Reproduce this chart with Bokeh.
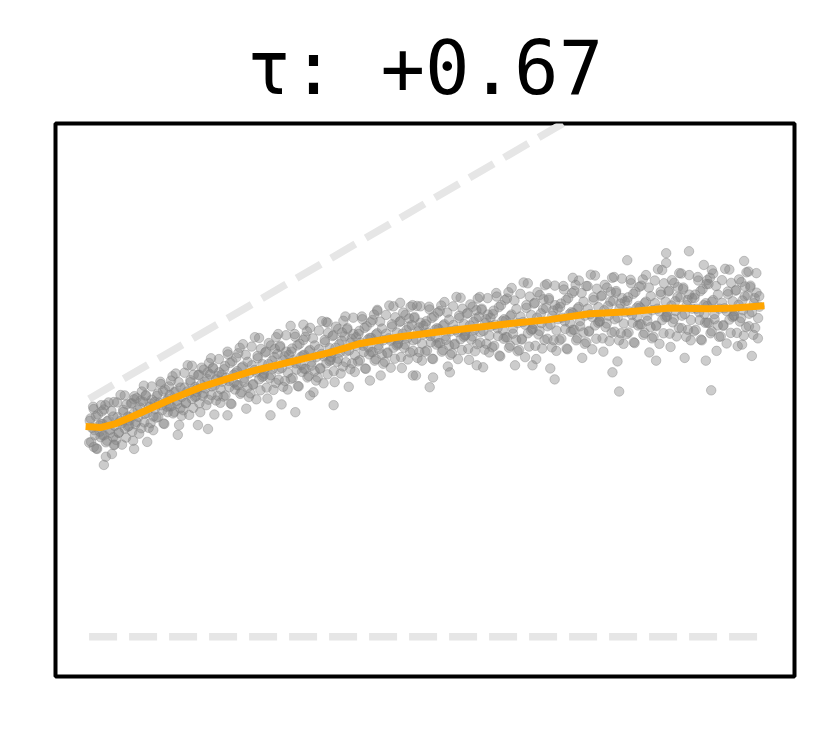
from bokeh.plotting import figure
from bokeh.embed import file_html
from bokeh.resources import INLINE
from bokeh.models import Range1d

# Scatter cloud (values read/estimated from the picture), first group
scatter_x = [
    0.1, 0.3, 0.6, 0.8, 1.0, 1.2, 1.5, 1.7, 1.9,
    2.0, 2.2, 2.5, 2.7, 2.9, 3.1, 3.4, 3.6, 3.8,
    4.2, 4.4, 4.6, 4.9, 5.1, 5.3, 5.5, 5.8, 5.95,
    6.05, 6.35, 6.55, 6.75, 7.05, 7.25, 7.45, 7.65, 7.85,
    8.15, 8.25, 8.45, 8.65, 8.95, 9.15, 9.35, 9.55, 9.75,
    10.1, 10.3, 10.6, 10.8, 11.0, 11.2, 11.5, 11.7, 11.9,
    12.0, 12.2, 12.5, 12.7, 12.9, 13.1, 13.4, 13.6, 13.8,
    14.2, 14.4, 14.6, 14.9, 15.1, 15.3, 15.5, 15.8, 15.95,
    16.05, 16.35, 16.55, 16.75, 17.05, 17.25, 17.45, 17.65, 17.85,
    18.15, 18.25, 18.45, 18.65, 18.95, 19.15, 19.35, 19.55, 19.75,
    20.1, 20.3, 20.6, 20.8, 21.0, 21.2, 21.5, 21.7, 21.9,
    22.0, 22.2, 22.5, 22.7, 22.9, 23.1, 23.4, 23.6, 23.8,
    24.2, 24.4, 24.6, 24.9, 25.1, 25.3, 25.5, 25.8, 25.95,
    26.05, 26.35, 26.55, 26.75, 27.05, 27.25, 27.45, 27.65, 27.85,
    28.15, 28.25, 28.45, 28.65, 28.95, 29.15, 29.35, 29.55, 29.75,
    30.1, 30.3, 30.6, 30.8, 31.0, 31.2, 31.5, 31.7, 31.9,
    32.0, 32.2, 32.5, 32.7, 32.9, 33.1, 33.4, 33.6, 33.8,
    34.2, 34.4, 34.6, 34.9, 35.1, 35.3, 35.5, 35.8, 35.95,
    36.05, 36.35, 36.55, 36.75, 37.05, 37.25, 37.45, 37.65, 37.85,
    38.15, 38.25, 38.45, 38.65, 38.95, 39.15, 39.35, 39.55, 39.75,
    40.1, 40.3, 40.6, 40.8, 41.0, 41.2, 41.5, 41.7, 41.9,
    42.0, 42.2, 42.5, 42.7, 42.9, 43.1, 43.4, 43.6, 43.8,
    44.2, 44.4, 44.6, 44.9, 45.1, 45.3, 45.5, 45.8, 45.95,
    46.05, 46.35, 46.55, 46.75, 47.05, 47.25, 47.45, 47.65, 47.85,
    48.15, 48.25, 48.45, 48.65, 48.95, 49.15, 49.35, 49.55, 49.75,
    50.1, 50.3, 50.6, 50.8, 51.0, 51.2, 51.5, 51.7, 51.9,
    52.0, 52.2, 52.5, 52.7, 52.9, 53.1, 53.4, 53.6, 53.8,
    54.2, 54.4, 54.6, 54.9, 55.1, 55.3, 55.5, 55.8, 55.95,
    56.05, 56.35, 56.55, 56.75, 57.05, 57.25, 57.45, 57.65, 57.85,
    58.15, 58.25, 58.45, 58.65, 58.95, 59.15, 59.35, 59.55, 59.75,
    60.1, 60.3, 60.6, 60.8, 61.0, 61.2, 61.5, 61.7, 61.9,
    62.0, 62.2, 62.5, 62.7, 62.9, 63.1, 63.4, 63.6, 63.8,
    64.2, 64.4, 64.6, 64.9, 65.1, 65.3, 65.5, 65.8, 65.95,
    66.05, 66.35, 66.55, 66.75, 67.05, 67.25, 67.45, 67.65, 67.85,
    68.15, 68.25, 68.45, 68.65, 68.95, 69.15, 69.35, 69.55, 69.75,
    70.1, 70.3, 70.6, 70.8, 71.0, 71.2, 71.5, 71.7, 71.9,
    72.0, 72.2, 72.5, 72.7, 72.9, 73.1, 73.4, 73.6, 73.8,
    74.2, 74.4, 74.6, 74.9, 75.1, 75.3, 75.5, 75.8, 75.95,
    76.05, 76.35, 76.55, 76.75, 77.05, 77.25, 77.45, 77.65, 77.85,
    78.15, 78.25, 78.45, 78.65, 78.95, 79.15, 79.35, 79.55, 79.75,
    80.1, 80.3, 80.6, 80.8, 81.0, 81.2, 81.5, 81.7, 81.9,
    82.0, 82.2, 82.5, 82.7, 82.9, 83.1, 83.4, 83.6, 83.8,
    84.2, 84.4, 84.6, 84.9, 85.1, 85.3, 85.5, 85.8, 85.95,
    86.05, 86.35, 86.55, 86.75, 87.05, 87.25, 87.45, 87.65, 87.85,
    88.15, 88.25, 88.45, 88.65, 88.95, 89.15, 89.35, 89.55, 89.75,
    90.1, 90.3, 90.6, 90.8, 91.0, 91.2, 91.5, 91.7, 91.9,
    92.0, 92.2, 92.5, 92.7, 92.9, 93.1, 93.4, 93.6, 93.8,
    94.2, 94.4, 94.6, 94.9, 95.1, 95.3, 95.5, 95.8, 95.95,
    96.05, 96.35, 96.55, 96.75, 97.05, 97.25, 97.45, 97.65, 97.85,
    98.15, 98.25, 98.45, 98.65, 98.95, 99.15, 99.35, 99.55, 99.75,
]
scatter_y = [
    55.3, 49.9, 58.9, 52.9, 56.5, 48.1, 54.1, 51.1, 57.7,
    51.6, 58.2, 49.8, 55.2, 60.0, 52.2, 46.8, 56.4, 54.0,
    60.0, 52.2, 55.2, 49.2, 57.6, 61.8, 51.0, 56.4, 54.0,
    56.2, 59.8, 50.2, 61.6, 55.0, 58.0, 52.0, 60.4, 62.8,
    64.3, 57.1, 61.9, 49.9, 58.9, 54.7, 60.7, 52.9, 60.1,
    61.7, 56.3, 65.3, 59.3, 62.9, 54.5, 60.5, 57.5, 64.1,
    59.0, 65.6, 57.2, 62.6, 67.4, 59.6, 54.2, 63.8, 61.4,
    67.6, 59.8, 62.8, 56.8, 65.2, 69.4, 58.6, 64.0, 61.6,
    63.5, 67.1, 57.5, 68.9, 62.3, 65.3, 59.3, 67.7, 70.1,
    71.3, 64.1, 68.9, 56.9, 65.9, 61.7, 67.7, 59.9, 67.1,
    68.5, 61.8, 73.0, 65.5, 70.1, 59.6, 67.1, 63.3, 71.5,
    64.4, 72.6, 62.2, 68.9, 74.9, 65.2, 58.4, 70.4, 67.4,
    74.3, 64.5, 68.3, 60.8, 71.3, 76.5, 63.1, 69.8, 66.8,
    68.4, 73.0, 61.0, 75.2, 67.0, 70.7, 63.2, 73.7, 76.7,
    77.5, 68.5, 74.5, 59.5, 70.8, 65.5, 73.0, 63.3, 72.2,
    73.0, 66.3, 77.5, 70.0, 74.6, 64.1, 71.6, 67.8, 76.0,
    68.6, 76.8, 66.4, 73.1, 79.1, 69.4, 62.6, 74.6, 71.6,
    78.4, 68.6, 72.4, 64.9, 75.4, 80.6, 67.2, 73.9, 70.9,
    72.6, 77.2, 65.2, 79.4, 71.2, 74.9, 67.4, 77.9, 80.9,
    82.0, 73.0, 79.0, 64.0, 75.3, 70.0, 77.5, 67.8, 76.7,
    77.5, 70.8, 82.0, 74.5, 79.1, 68.6, 76.1, 72.3, 80.5,
    72.9, 81.1, 70.7, 77.4, 83.4, 73.7, 66.9, 78.9, 75.9,
    82.4, 72.6, 76.4, 68.9, 79.4, 84.6, 71.2, 77.9, 74.9,
    76.2, 80.8, 68.8, 83.0, 74.8, 78.5, 71.0, 81.5, 84.5,
    84.9, 75.9, 81.9, 66.9, 78.2, 72.9, 80.4, 70.7, 79.6,
    80.0, 73.3, 84.5, 77.0, 81.6, 71.1, 78.6, 74.8, 83.0,
    75.2, 83.4, 73.0, 79.7, 85.7, 76.0, 69.2, 81.2, 78.2,
    84.6, 74.8, 78.6, 71.1, 81.6, 86.8, 73.4, 80.1, 77.1,
    78.3, 82.9, 70.9, 85.1, 76.9, 80.6, 73.1, 83.6, 86.6,
    87.0, 78.0, 84.0, 69.0, 80.3, 75.0, 82.5, 72.8, 81.7,
    82.6, 74.5, 88.0, 79.0, 84.4, 71.8, 80.8, 76.3, 86.2,
    76.7, 86.6, 74.0, 82.1, 89.3, 77.6, 69.5, 83.9, 80.3,
    87.8, 76.1, 80.6, 71.6, 84.2, 90.5, 74.3, 82.4, 78.8,
    80.1, 85.5, 71.1, 88.2, 78.3, 82.8, 73.8, 86.4, 90.0,
    90.3, 79.5, 86.7, 68.7, 82.2, 75.9, 84.9, 73.2, 84.0,
    84.4, 76.3, 89.8, 80.8, 86.2, 73.6, 82.6, 78.1, 88.0,
    78.6, 88.5, 75.9, 84.0, 91.2, 79.5, 71.4, 85.8, 82.2,
    89.8, 78.1, 82.6, 73.6, 86.2, 92.5, 76.3, 84.4, 80.8,
    82.0, 87.4, 73.0, 90.1, 80.2, 84.7, 75.7, 88.3, 91.9,
    92.1, 81.3, 88.5, 70.5, 84.0, 77.7, 86.7, 75.0, 85.8,
    86.0, 77.9, 91.4, 82.4, 87.8, 75.2, 84.2, 79.7, 89.6,
    80.0, 89.9, 77.3, 85.4, 92.6, 80.9, 72.8, 87.2, 83.6,
    91.2, 79.5, 84.0, 75.0, 87.6, 93.9, 77.7, 85.8, 82.2,
    83.2, 88.6, 74.2, 91.3, 81.4, 85.9, 76.9, 89.5, 93.1,
    93.0, 82.2, 89.4, 71.4, 84.9, 78.6, 87.6, 75.9, 86.7,
    86.7, 78.6, 92.1, 83.1, 88.5, 75.9, 84.9, 80.4, 90.3,
    80.4, 90.3, 77.7, 85.8, 93.0, 81.3, 73.2, 87.6, 84.0,
    91.3, 79.6, 84.1, 75.1, 87.7, 94.0, 77.8, 85.9, 82.3,
    83.4, 88.8, 74.4, 91.5, 81.6, 86.1, 77.1, 89.7, 93.3,
    93.5, 82.7, 89.9, 71.9, 85.4, 79.1, 88.1, 76.4, 87.2,
]

# Second group of cloud points (denser core)
scatter2_x = [
    0.02, 0.22, 0.42, 0.68, 0.88, 1.08, 1.32, 1.58, 1.78,
    2.02, 2.22, 2.42, 2.68, 2.88, 3.08, 3.32, 3.58, 3.78,
    4.02, 4.22, 4.42, 4.68, 4.88, 5.08, 5.32, 5.58, 5.78,
    6.02, 6.22, 6.42, 6.68, 6.88, 7.08, 7.32, 7.58, 7.78,
    8.02, 8.22, 8.42, 8.68, 8.88, 9.08, 9.32, 9.58, 9.78,
    10.02, 10.22, 10.42, 10.68, 10.88, 11.08, 11.32, 11.58, 11.78,
    12.02, 12.22, 12.42, 12.68, 12.88, 13.08, 13.32, 13.58, 13.78,
    14.02, 14.22, 14.42, 14.68, 14.88, 15.08, 15.32, 15.58, 15.78,
    16.02, 16.22, 16.42, 16.68, 16.88, 17.08, 17.32, 17.58, 17.78,
    18.02, 18.22, 18.42, 18.68, 18.88, 19.08, 19.32, 19.58, 19.78,
    20.02, 20.22, 20.42, 20.68, 20.88, 21.08, 21.32, 21.58, 21.78,
    22.02, 22.22, 22.42, 22.68, 22.88, 23.08, 23.32, 23.58, 23.78,
    24.02, 24.22, 24.42, 24.68, 24.88, 25.08, 25.32, 25.58, 25.78,
    26.02, 26.22, 26.42, 26.68, 26.88, 27.08, 27.32, 27.58, 27.78,
    28.02, 28.22, 28.42, 28.68, 28.88, 29.08, 29.32, 29.58, 29.78,
    30.02, 30.22, 30.42, 30.68, 30.88, 31.08, 31.32, 31.58, 31.78,
    32.02, 32.22, 32.42, 32.68, 32.88, 33.08, 33.32, 33.58, 33.78,
    34.02, 34.22, 34.42, 34.68, 34.88, 35.08, 35.32, 35.58, 35.78,
    36.02, 36.22, 36.42, 36.68, 36.88, 37.08, 37.32, 37.58, 37.78,
    38.02, 38.22, 38.42, 38.68, 38.88, 39.08, 39.32, 39.58, 39.78,
    40.02, 40.22, 40.42, 40.68, 40.88, 41.08, 41.32, 41.58, 41.78,
    42.02, 42.22, 42.42, 42.68, 42.88, 43.08, 43.32, 43.58, 43.78,
    44.02, 44.22, 44.42, 44.68, 44.88, 45.08, 45.32, 45.58, 45.78,
    46.02, 46.22, 46.42, 46.68, 46.88, 47.08, 47.32, 47.58, 47.78,
    48.02, 48.22, 48.42, 48.68, 48.88, 49.08, 49.32, 49.58, 49.78,
    50.02, 50.22, 50.42, 50.68, 50.88, 51.08, 51.32, 51.58, 51.78,
    52.02, 52.22, 52.42, 52.68, 52.88, 53.08, 53.32, 53.58, 53.78,
    54.02, 54.22, 54.42, 54.68, 54.88, 55.08, 55.32, 55.58, 55.78,
    56.02, 56.22, 56.42, 56.68, 56.88, 57.08, 57.32, 57.58, 57.78,
    58.02, 58.22, 58.42, 58.68, 58.88, 59.08, 59.32, 59.58, 59.78,
    60.02, 60.22, 60.42, 60.68, 60.88, 61.08, 61.32, 61.58, 61.78,
    62.02, 62.22, 62.42, 62.68, 62.88, 63.08, 63.32, 63.58, 63.78,
    64.02, 64.22, 64.42, 64.68, 64.88, 65.08, 65.32, 65.58, 65.78,
    66.02, 66.22, 66.42, 66.68, 66.88, 67.08, 67.32, 67.58, 67.78,
    68.02, 68.22, 68.42, 68.68, 68.88, 69.08, 69.32, 69.58, 69.78,
    70.02, 70.22, 70.42, 70.68, 70.88, 71.08, 71.32, 71.58, 71.78,
    72.02, 72.22, 72.42, 72.68, 72.88, 73.08, 73.32, 73.58, 73.78,
    74.02, 74.22, 74.42, 74.68, 74.88, 75.08, 75.32, 75.58, 75.78,
    76.02, 76.22, 76.42, 76.68, 76.88, 77.08, 77.32, 77.58, 77.78,
    78.02, 78.22, 78.42, 78.68, 78.88, 79.08, 79.32, 79.58, 79.78,
    80.02, 80.22, 80.42, 80.68, 80.88, 81.08, 81.32, 81.58, 81.78,
    82.02, 82.22, 82.42, 82.68, 82.88, 83.08, 83.32, 83.58, 83.78,
    84.02, 84.22, 84.42, 84.68, 84.88, 85.08, 85.32, 85.58, 85.78,
    86.02, 86.22, 86.42, 86.68, 86.88, 87.08, 87.32, 87.58, 87.78,
    88.02, 88.22, 88.42, 88.68, 88.88, 89.08, 89.32, 89.58, 89.78,
    90.02, 90.22, 90.42, 90.68, 90.88, 91.08, 91.32, 91.58, 91.78,
    92.02, 92.22, 92.42, 92.68, 92.88, 93.08, 93.32, 93.58, 93.78,
    94.02, 94.22, 94.42, 94.68, 94.88, 95.08, 95.32, 95.58, 95.78,
    96.02, 96.22, 96.42, 96.68, 96.88, 97.08, 97.32, 97.58, 97.78,
    98.02, 98.22, 98.42, 98.68, 98.88, 99.08, 99.32, 99.58, 99.78,
]
scatter2_y = [
    49.7, 55.9, 53.5, 58.3, 51.6, 48.2, 56.9, 52.5, 54.5,
    54.5, 51.6, 59.3, 50.2, 55.4, 53.0, 57.8, 51.1, 49.2,
    50.4, 56.2, 52.3, 61.9, 54.7, 58.1, 53.3, 59.5, 53.8,
    55.4, 59.7, 52.5, 57.3, 54.4, 61.1, 56.3, 58.7, 53.4,
    60.2, 54.9, 61.7, 57.3, 53.5, 59.7, 64.1, 56.4, 58.3,
    56.1, 62.3, 59.9, 64.7, 58.0, 54.6, 63.3, 58.9, 60.9,
    61.9, 59.0, 66.7, 57.6, 62.8, 60.4, 65.2, 58.5, 56.6,
    58.0, 63.8, 59.9, 69.5, 62.3, 65.7, 60.9, 67.1, 61.4,
    62.7, 67.0, 59.8, 64.6, 61.7, 68.4, 63.6, 66.0, 60.7,
    67.2, 61.9, 68.7, 64.3, 60.5, 66.7, 71.1, 63.4, 65.3,
    61.5, 69.3, 66.3, 72.3, 63.9, 59.7, 70.5, 65.1, 67.5,
    68.0, 64.4, 74.0, 62.6, 69.2, 66.2, 72.2, 63.8, 61.4,
    62.3, 69.5, 64.7, 76.7, 67.7, 71.9, 65.9, 73.7, 66.5,
    67.4, 72.8, 63.8, 69.8, 66.2, 74.6, 68.6, 71.6, 65.0,
    72.4, 65.8, 74.2, 68.8, 64.0, 71.8, 77.2, 67.6, 70.0,
    66.0, 73.8, 70.8, 76.8, 68.4, 64.2, 75.0, 69.6, 72.0,
    72.2, 68.6, 78.2, 66.8, 73.4, 70.4, 76.4, 68.0, 65.6,
    66.4, 73.6, 68.8, 80.8, 71.8, 76.0, 70.0, 77.8, 70.6,
    71.6, 77.0, 68.0, 74.0, 70.4, 78.8, 72.8, 75.8, 69.2,
    76.9, 70.3, 78.7, 73.3, 68.5, 76.3, 81.7, 72.1, 74.5,
    70.5, 78.3, 75.3, 81.3, 72.9, 68.7, 79.5, 74.1, 76.5,
    76.5, 72.9, 82.5, 71.1, 77.7, 74.7, 80.7, 72.3, 69.9,
    70.4, 77.6, 72.8, 84.8, 75.8, 80.0, 74.0, 81.8, 74.6,
    75.2, 80.6, 71.6, 77.6, 74.0, 82.4, 76.4, 79.4, 72.8,
    79.8, 73.2, 81.6, 76.2, 71.4, 79.2, 84.6, 75.0, 77.4,
    73.0, 80.8, 77.8, 83.8, 75.4, 71.2, 82.0, 76.6, 79.0,
    78.8, 75.2, 84.8, 73.4, 80.0, 77.0, 83.0, 74.6, 72.2,
    72.6, 79.8, 75.0, 87.0, 78.0, 82.2, 76.2, 84.0, 76.8,
    77.3, 82.7, 73.7, 79.7, 76.1, 84.5, 78.5, 81.5, 74.9,
    81.9, 75.3, 83.7, 78.3, 73.5, 81.3, 86.7, 77.1, 79.5,
    74.1, 83.5, 79.9, 87.1, 77.0, 72.0, 84.9, 78.5, 81.3,
    81.0, 76.7, 88.2, 74.5, 82.5, 78.9, 86.1, 76.0, 73.1,
    73.4, 82.0, 76.3, 90.7, 79.9, 84.9, 77.7, 87.1, 78.4,
    78.8, 85.3, 74.5, 81.7, 77.4, 87.5, 80.3, 83.9, 76.0,
    84.2, 76.3, 86.3, 79.9, 74.1, 83.5, 89.9, 78.4, 81.3,
    75.9, 85.3, 81.7, 88.9, 78.8, 73.8, 86.7, 80.3, 83.1,
    82.9, 78.6, 90.1, 76.4, 84.4, 80.8, 88.0, 77.9, 75.0,
    75.4, 84.0, 78.3, 92.7, 81.9, 86.9, 79.7, 89.1, 80.4,
    80.7, 87.2, 76.4, 83.6, 79.3, 89.4, 82.2, 85.8, 77.9,
    86.0, 78.1, 88.1, 81.7, 75.9, 85.3, 91.7, 80.2, 83.1,
    77.5, 86.9, 83.3, 90.5, 80.4, 75.4, 88.3, 81.9, 84.7,
    84.3, 80.0, 91.5, 77.8, 85.8, 82.2, 89.4, 79.3, 76.4,
    76.8, 85.4, 79.7, 94.1, 83.3, 88.3, 81.1, 90.5, 81.8,
    81.9, 88.4, 77.6, 84.8, 80.5, 90.6, 83.4, 87.0, 79.1,
    86.9, 79.0, 89.0, 82.6, 76.8, 86.2, 92.6, 81.1, 84.0,
    78.2, 87.6, 84.0, 91.2, 81.1, 76.1, 89.0, 82.6, 85.4,
    84.7, 80.4, 91.9, 78.2, 86.2, 82.6, 89.8, 79.7, 76.8,
    76.9, 85.5, 79.8, 94.2, 83.4, 88.4, 81.2, 90.6, 81.9,
    82.1, 88.6, 77.8, 85.0, 80.7, 90.8, 83.6, 87.2, 79.3,
    87.4, 79.5, 89.5, 83.1, 77.3, 86.7, 93.1, 81.6, 84.5,
]

# Sparse outlying points
outlier_x = [2.5, 2.2, 0.7, 3.7, 6.7, 13.2, 16.2, 17.7, 20.6, 27.0, 30.7, 36.4,
             32.9, 41.8, 48.2, 50.7, 51.2, 53.7, 57.7, 66.0, 69.3, 77.9, 78.9,
             84.4, 91.8, 92.6, 97.2, 46.3, 48.8, 42.9, 72.0, 74.0, 80.1, 85.9,
             85.9, 89.3, 91.5, 92.7, 97.5, 92.0, 30.0, 31.9, 35.5, 1.8, 3.7, 6.7]
outlier_y = [46.1, 44.0, 48.6, 49.1, 48.1, 51.7, 54.2, 53.2, 56.7, 56.7, 57.5, 59.3,
             61.8, 65.6, 66.9, 63.9, 66.4, 67.7, 69.5, 69.5, 65.9, 67.7, 62.8,
             70.7, 70.7, 63.1, 74.8, 85.5, 84.7, 83.7, 91.9, 89.8, 96.4, 98.2,
             95.7, 98.7, 95.2, 93.9, 96.2, 91.3, 79.6, 79.9, 80.4, 59.3, 60.1, 60.8]

# Smoothed trend (orange)
trend_x = [0, 1.8, 4, 6.2, 9.2, 12.2, 16.6, 24, 31.5, 35.9, 40.4, 46.3, 53.7,
           61.1, 68.5, 74.5, 80.4, 86.4, 92.3, 96, 100]
trend_y = [53.8, 53.6, 54.6, 56.2, 58.5, 60.8, 63.9, 67.9, 71.0, 72.8, 75.1, 76.8,
           78.4, 79.9, 81.2, 82.7, 83.2, 84.2, 84.0, 84.2, 84.7]

# Reference lines
base_x = [0, 100]
base_y = [0, 0]
diag_x = [0, 100]
diag_y = [60.9, 160.9]

title_text = "τ: +0.67"

p = figure(width=814, height=700, output_backend="svg", toolbar_location=None,
           x_range=Range1d(-5, 105), y_range=Range1d(-10.15, 131.4),
           x_axis_location=None, y_axis_location=None,
           min_border_left=55, min_border_right=20, min_border_top=123,
           min_border_bottom=24, title=title_text)

p.title.text_font = "DejaVu Sans Mono"
p.title.text_font_size = "74px"
p.title.text_font_style = "normal"
p.title.align = "center"
p.title.text_color = "black"
p.title.standoff = 26

p.xgrid.visible = False
p.ygrid.visible = False
p.outline_line_color = "black"
p.outline_line_width = 4
p.background_fill_color = "white"
p.border_fill_color = "white"

p.line(base_x, base_y, line_color="#e6e6e6", line_width=7.5, line_dash="28 12")
p.line(diag_x, diag_y, line_color="#e6e6e6", line_width=7.5, line_dash="28 12")

all_x = scatter_x + scatter2_x + outlier_x
all_y = scatter_y + scatter2_y + outlier_y
p.scatter(all_x, all_y, size=9.5,
          fill_color="#808080", fill_alpha=0.4,
          line_color="#808080", line_alpha=0.4, line_width=1)

p.line(trend_x, trend_y, line_color="#FFA500", line_width=7, line_cap="square",
       line_join="round")

open("out.html", "w").write(file_html(p, INLINE))
